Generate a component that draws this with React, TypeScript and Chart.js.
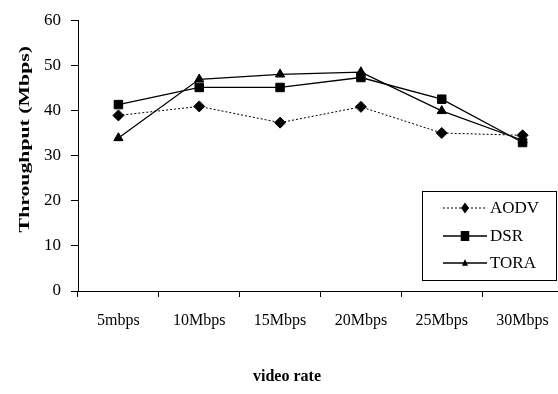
import React, { useEffect, useRef } from "react";
import { Chart, registerables } from "chart.js";

Chart.register(...registerables);

const categories = ["5mbps", "10Mbps", "15Mbps", "20Mbps", "25Mbps", "30Mbps"];
const aodv = [38.9, 40.9, 37.3, 40.8, 35.0, 34.5];
const dsr = [41.3, 45.1, 45.1, 47.3, 42.5, 32.9];
const tora = [33.9, 46.9, 48.0, 48.5, 39.9, 33.4];
const yTicks = [0, 10, 20, 30, 40, 50, 60];
const yTitle = "Throughput (Mbps)";
const xTitle = "video rate";

const SERIF = "'Liberation Serif', 'Times New Roman', serif";

function drawMarker(ctx: CanvasRenderingContext2D, style: string, x: number, y: number, r: number) {
  ctx.save();
  ctx.fillStyle = "#000";
  ctx.beginPath();
  if (style === "rectRot") {
    ctx.moveTo(x, y - r * 1.1);
    ctx.lineTo(x + r * 0.8, y);
    ctx.lineTo(x, y + r * 1.1);
    ctx.lineTo(x - r * 0.8, y);
  } else if (style === "rect") {
    ctx.rect(x - r * 0.85, y - r, r * 1.7, r * 2);
  } else {
    ctx.moveTo(x, y - r);
    ctx.lineTo(x + r * 0.75, y + r * 0.7);
    ctx.lineTo(x - r * 0.75, y + r * 0.7);
  }
  ctx.closePath();
  ctx.fill();
  ctx.restore();
}

const overlayPlugin = {
  id: "overlay",
  afterDraw(chart: any) {
    const ctx = chart.ctx as CanvasRenderingContext2D;
    const ca = chart.chartArea;
    ctx.save();
    ctx.fillStyle = "#000";
    ctx.font = `bold 15px ${SERIF}`;
    ctx.textAlign = "center";
    ctx.textBaseline = "middle";
    ctx.translate(25, ca.top + 119);
    ctx.rotate(-Math.PI / 2);
    ctx.scale(1.45, 1);
    ctx.fillText(yTitle, 0, 0);
    ctx.restore();

    ctx.save();
    ctx.fillStyle = "#000";
    ctx.font = `bold 16px ${SERIF}`;
    ctx.textAlign = "center";
    ctx.textBaseline = "middle";
    ctx.fillText(xTitle, 287, ca.bottom + 86);
    ctx.restore();

    const bx = 422, by = 191, bw = 134, bh = 89;
    ctx.save();
    ctx.fillStyle = "#fff";
    ctx.fillRect(bx, by, bw, bh);
    ctx.strokeStyle = "#000";
    ctx.lineWidth = 1;
    ctx.strokeRect(bx + 0.5, by + 0.5, bw, bh);
    ctx.restore();
    const rows = [208, 236, 263];
    chart.data.datasets.forEach((ds: any, i: number) => {
      const y = rows[i];
      ctx.save();
      ctx.strokeStyle = "#000";
      ctx.lineWidth = ds.borderWidth;
      ctx.setLineDash(ds.borderDash || []);
      ctx.beginPath();
      ctx.moveTo(443, y);
      ctx.lineTo(487, y);
      ctx.stroke();
      ctx.restore();
      drawMarker(ctx, ds.pointStyle, 465, y, ds.pointStyle === "triangle" ? 4 : 5);
      ctx.save();
      ctx.fillStyle = "#000";
      ctx.font = `17px ${SERIF}`;
      ctx.textAlign = "left";
      ctx.textBaseline = "middle";
      ctx.fillText(ds.label, 490, y + 1);
      ctx.restore();
    });
  },
};

export default function App() {
  const ref = useRef<HTMLCanvasElement>(null);
  useEffect(() => {
    if (!ref.current) return;
    const common = {
      borderColor: "#000",
      backgroundColor: "#000",
      pointBorderColor: "#000",
      pointBackgroundColor: "#000",
      pointBorderWidth: 1,
      tension: 0,
      fill: false,
    };
    const chart = new Chart(ref.current, {
      type: "line",
      data: {
        labels: categories,
        datasets: [
          { ...common, label: "AODV", data: aodv, borderWidth: 1, borderDash: [2, 2], pointStyle: "rectRot", pointRadius: 5.5 },
          { ...common, label: "DSR", data: dsr, borderWidth: 1.3, pointStyle: "rect", pointRadius: 6 },
          { ...common, label: "TORA", data: tora, borderWidth: 1.3, pointStyle: "triangle", pointRadius: 5.3 },
        ],
      },
      options: {
        animation: false,
        responsive: false,
        devicePixelRatio: 1,
        layout: { padding: { top: 17, right: 6, left: 0, bottom: 0 } },
        plugins: { legend: { display: false }, tooltip: { enabled: false }, title: { display: false } },
        scales: {
          x: {
            type: "category",
            offset: true,
            grid: { display: true, drawOnChartArea: false, drawTicks: true, tickLength: 6, color: "#000", offset: true },
            border: { display: true, color: "#000", width: 1 },
            ticks: { color: "#000", font: { family: SERIF, size: 16 }, padding: 14, maxRotation: 0, autoSkip: false },
            afterFit(scale: any) { scale.height = 103; },
          },
          y: {
            min: 0,
            max: 60,
            afterBuildTicks(scale: any) { scale.ticks = yTicks.map((v) => ({ value: v })); },
            grid: { display: true, drawOnChartArea: false, drawTicks: true, tickLength: 7, color: "#000" },
            border: { display: true, color: "#000", width: 1 },
            ticks: { color: "#000", font: { family: SERIF, size: 17 }, padding: 10 },
            afterFit(scale: any) { scale.width = 78; },
          },
        },
      },
      plugins: [overlayPlugin],
    } as any);
    return () => chart.destroy();
  }, []);
  return (
    <div style={{ position: "fixed", left: 0, top: 0, width: 558, height: 394, overflow: "hidden", background: "#fff" }}>
      <canvas ref={ref} width={570} height={394} style={{ width: 570, height: 394, display: "block" }} />
    </div>
  );
}
